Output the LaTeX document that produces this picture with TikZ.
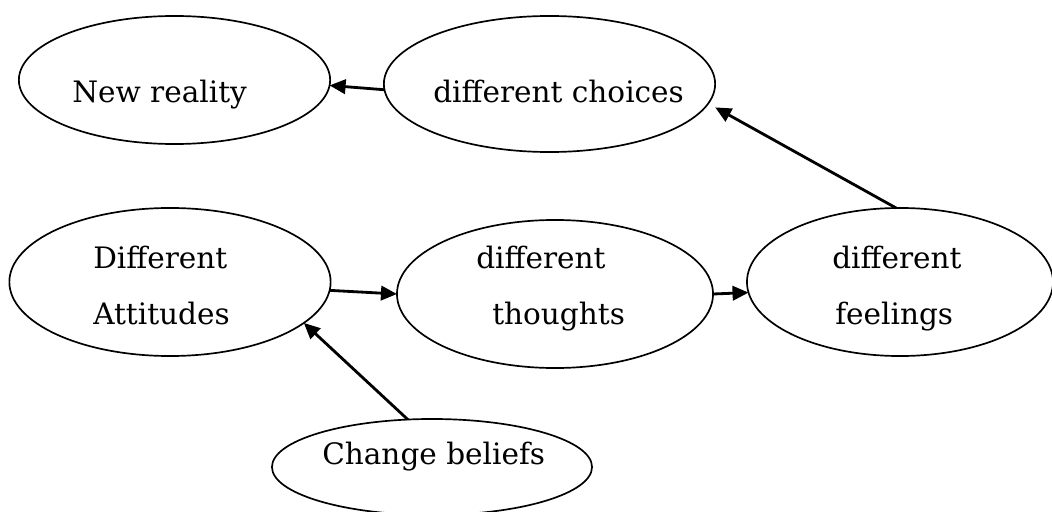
\documentclass[tikz,border=0pt]{standalone}
\usepackage{fontspec}
\setmainfont{DejaVu Serif}
\usetikzlibrary{arrows.meta,positioning,calc,shapes.geometric}

\begin{document}
\begin{tikzpicture}[x=0.025cm,y=-0.025cm,
  bubble/.style={ellipse,draw,line width=1.2pt,inner sep=0pt,outer sep=0pt},
  words/.style={anchor=base west,inner sep=0pt,font=\fontsize{21}{24}\selectfont},
  link/.style={-{Triangle[length=4mm,width=3.6mm]},line width=2pt}]
\useasboundingbox (0,0) rectangle (1052,512);

% ellipses
\node[bubble,minimum width=7.78cm, minimum height=3.2cm, name=reality] at (174.5,80) {};
\node[bubble,minimum width=8.28cm, minimum height=3.4cm, name=choices] at (549.5,84) {};
\node[bubble,minimum width=8.03cm, minimum height=3.7cm, name=attitudes] at (170,282) {};
\node[bubble,minimum width=7.9cm, minimum height=3.7cm, name=thoughts] at (555,294) {};
\node[bubble,minimum width=7.65cm, minimum height=3.7cm, name=feelings] at (900,282) {};
\node[bubble,minimum width=8.0cm, minimum height=2.4cm, name=beliefs] at (432,467) {};

% texts inside the ellipses
\node[words, name=realityA] at (72,102) {New reality};
\node[words, name=choicesA] at (433,102) {different choices};
\node[words, name=attitudesA] at (93,268) {Different};
\node[words, name=attitudesB] at (93,324) {Attitudes};
\node[words, name=thoughtsA] at (476,268) {different};
\node[words, name=thoughtsB] at (492,324) {thoughts};
\node[words, name=feelingsA] at (832,268) {different};
\node[words, name=feelingsB] at (835,324) {feelings};
\node[words, name=beliefsA] at (322,464) {Change beliefs};

% arrows
\draw[link] (choices.182) -- (reality.-2);
\draw[link] (attitudes.-3) -- (thoughts.west);
\draw[link] (thoughts.east) -- (feelings.184);
\draw[link,shorten >=0.2cm] (feelings.93) -- (choices.-7);
\draw[link] (beliefs.117) -- (attitudes.-17);
\end{tikzpicture}
\end{document}
